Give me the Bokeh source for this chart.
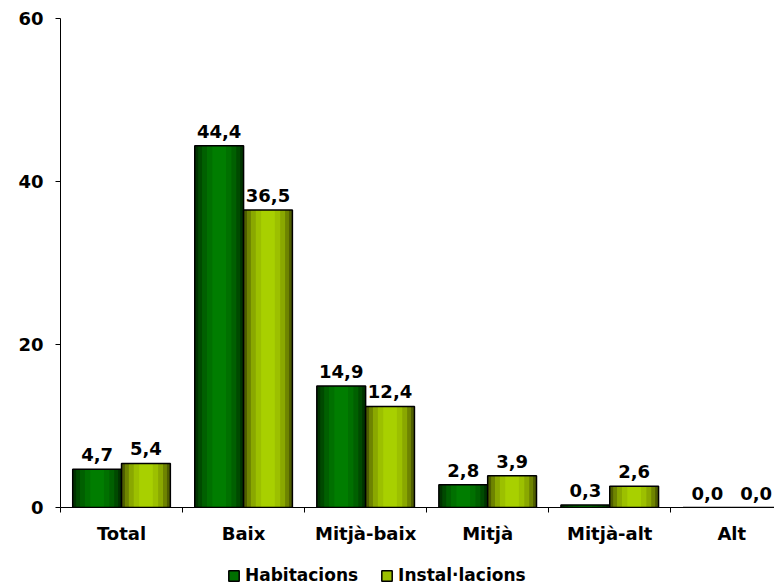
from bokeh.plotting import figure
from bokeh.layouts import column
from bokeh.models import Range1d, FixedTicker, Legend, LegendItem, ColumnDataSource
from bokeh.core.properties import value
from bokeh.embed import file_html
from bokeh.resources import INLINE

categories = ["Total", "Baix", "Mitjà-baix", "Mitjà", "Mitjà-alt", "Alt"]
habitacions = [4.7, 44.4, 14.9, 2.8, 0.3, 0.0]
installacions = [5.4, 36.5, 12.4, 3.9, 2.6, 0.0]
series_names = ["Habitacions", "Instal·lacions"]
y_ticks = [0, 20, 40, 60]

FONT = "DejaVu Sans"
centers = [i + 0.5 for i in range(len(categories))]
bar_w = 0.4

p = figure(width=774, height=558, output_backend="svg", toolbar_location=None,
           x_range=Range1d(0, 5.85), y_range=Range1d(0, 60),
           min_border_left=60, min_border_right=0, min_border_top=18, min_border_bottom=51)
p.outline_line_color = None
p.xgrid.visible = False
p.ygrid.visible = False
p.background_fill_color = "white"

def fmt(v):
    return f"{v:.1f}".replace(".", ",")

grad_h = ["#003300", "#004a00", "#006000", "#007000", "#007d00"]
grad_i = ["#4f5e00", "#6e8400", "#8aa800", "#9cc000", "#a8d000"]
fracs = [1.0, 0.86, 0.7, 0.5, 0.28]

series = [(habitacions, -0.2, grad_h), (installacions, 0.2, grad_i)]
for vals, off, grad in series:
    xs = [c + off for c in centers]
    src = ColumnDataSource(dict(x=xs, top=vals, label=[fmt(v) for v in vals]))
    for f, col in zip(fracs, grad):
        p.vbar(x="x", top="top", width=bar_w * f, bottom=0, source=src,
               fill_color=col, line_color=None)
    p.vbar(x="x", top="top", width=bar_w, bottom=0, source=src,
           fill_alpha=0, line_color="black", line_width=1.5)
    p.text(x="x", y="top", text="label", source=src, text_align="center",
           text_baseline="bottom", y_offset=-8, text_font=value(FONT),
           text_font_style="bold", text_font_size="18px", text_color="black")

# y axis
p.yaxis.ticker = FixedTicker(ticks=y_ticks)
p.yaxis.major_label_text_font = FONT
p.yaxis.major_label_text_font_style = "bold"
p.yaxis.major_label_text_font_size = "18px"
p.yaxis.major_label_text_color = "black"
p.yaxis.axis_line_color = "black"
p.yaxis.major_tick_line_color = "black"
p.yaxis.major_tick_out = 5
p.yaxis.major_tick_in = 0
p.yaxis.minor_tick_line_color = None
p.yaxis.major_label_standoff = 12

# x axis
p.xaxis.ticker = FixedTicker(ticks=centers, minor_ticks=list(range(len(categories) + 1)))
p.xaxis.major_label_overrides = {c: cat for c, cat in zip(centers, categories)}
p.xaxis.major_label_text_font = FONT
p.xaxis.major_label_text_font_style = "bold"
p.xaxis.major_label_text_font_size = "18px"
p.xaxis.major_label_text_color = "black"
p.xaxis.axis_line_color = "black"
p.xaxis.major_tick_out = 0
p.xaxis.major_tick_in = 0
p.xaxis.minor_tick_line_color = "black"
p.xaxis.minor_tick_out = 5
p.xaxis.minor_tick_in = 0
p.xaxis.major_label_standoff = 10

# legend strip below the chart (its renderers are hidden; only the legend shows)
lg = figure(width=774, height=27, output_backend="svg", toolbar_location=None,
            x_range=Range1d(0, 1), y_range=Range1d(0, 1),
            x_axis_location=None, y_axis_location=None,
            min_border_left=0, min_border_right=0, min_border_top=0, min_border_bottom=0)
lg.outline_line_color = None
lg.xgrid.visible = False
lg.ygrid.visible = False
items = []
for name, (vals, off, grad) in zip(series_names, series):
    r = lg.vbar(x=[c + off for c in centers], top=vals, width=bar_w,
                fill_color=grad[3], line_color="black", line_width=1.5, visible=False)
    items.append(LegendItem(label=name, renderers=[r]))
legend = Legend(items=items, orientation="horizontal", location=(167, 0),
                label_text_font=FONT, label_text_font_style="bold",
                label_text_font_size="17px", label_text_color="black",
                glyph_width=13, glyph_height=13, label_standoff=5, spacing=22,
                padding=0, margin=0, border_line_color=None, background_fill_alpha=0,
                inactive_fill_alpha=0)
lg.add_layout(legend, "center")

layout = column(p, lg, spacing=0)
open("out.html", "w").write(file_html(layout, INLINE))
